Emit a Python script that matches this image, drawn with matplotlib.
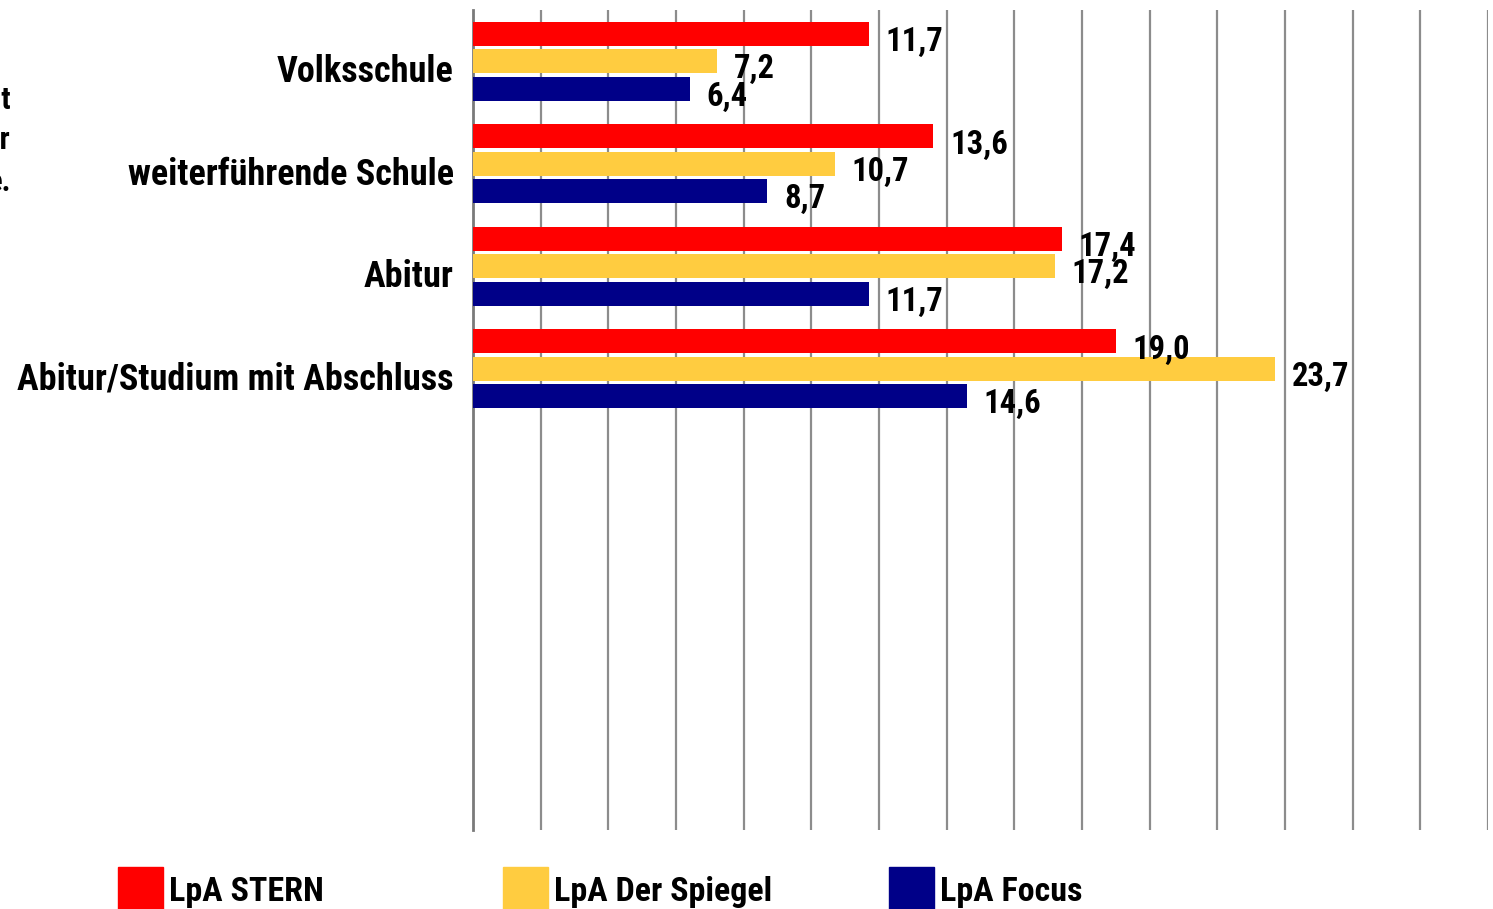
import matplotlib
matplotlib.use('Agg')
import matplotlib.pyplot as plt
import matplotlib.transforms as mtransforms
from matplotlib.patches import Rectangle
import numpy as np

plt.rcParams['font.family'] = ['Roboto Condensed', 'DejaVu Sans']
plt.rcParams['font.stretch'] = 'condensed'
plt.rcParams['font.weight'] = 'bold'

# Daten (Leser pro Ausgabe in %)
kategorien = ['Volksschule', 'weiterführende Schule', 'Abitur', 'Abitur/Studium mit Abschluss']
stern = [11.7, 13.6, 17.4, 19.0]
spiegel = [7.2, 10.7, 17.2, 23.7]
focus = [6.4, 8.7, 11.7, 14.6]
serien = ['LpA STERN', 'LpA Der Spiegel', 'LpA Focus']
farben = ['#FF0000', '#FFCC40', '#000088']

fig = plt.figure(figsize=(14.93, 9.09), dpi=100)
ax = fig.add_axes([473 / 1493, 1 - 830 / 909, 1015 / 1493, 820 / 909])

y = np.arange(len(kategorien))
hoehe = 0.234
abstand = 0.268
for i, (werte, farbe) in enumerate(zip([stern, spiegel, focus], farben)):
    pos = y + (i - 1) * abstand
    ax.barh(pos, werte, height=hoehe, color=farbe, zorder=3)
    for p, w in zip(pos, werte):
        ax.text(w + 0.5, p + 0.08, f'{w:.1f}'.replace('.', ','), va='center', ha='left',
                fontsize=23.5, fontweight='bold', zorder=4)

ax.set_xlim(0, 30)
ax.set_ylim(7.5, -0.5)  # 8 Plätze, nur die oberen 4 belegt
ax.set_xticks(np.arange(0, 31, 2))
ax.xaxis.grid(True, color='#8c8c8c', linewidth=1.6, zorder=0)
ax.tick_params(axis='x', length=0, labelbottom=False)
ax.tick_params(axis='y', length=0, pad=14)
ax.set_yticks(y, kategorien, fontsize=26, fontweight='bold')
versatz = mtransforms.ScaledTranslation(0, -7 / 100, fig.dpi_scale_trans)
for lab in ax.get_yticklabels():
    lab.set_transform(lab.get_transform() + versatz)
for s in ['top', 'right', 'bottom']:
    ax.spines[s].set_visible(False)
ax.spines['left'].set_color('#7a7a7a')
ax.spines['left'].set_linewidth(2)

# abgeschnittener Text am linken Rand
for yy, t in zip([100, 140, 182], ['gt', 'er', 'e.']):
    fig.text(11 / 1493, 1 - yy / 909, t, ha='right', va='center', fontsize=22, fontweight='bold')

# Legende unten
for xx, name, farbe in zip([118, 503, 889], serien, farben):
    fig.add_artist(Rectangle((xx / 1493, -0.02), 45 / 1493, 0.02 + (909 - 867) / 909,
                             transform=fig.transFigure, color=farbe))
    fig.text((xx + 51) / 1493, 1 - 892 / 909, name, ha='left', va='center', fontsize=24.5, fontweight='bold')

fig.savefig('out.png', dpi=100)
